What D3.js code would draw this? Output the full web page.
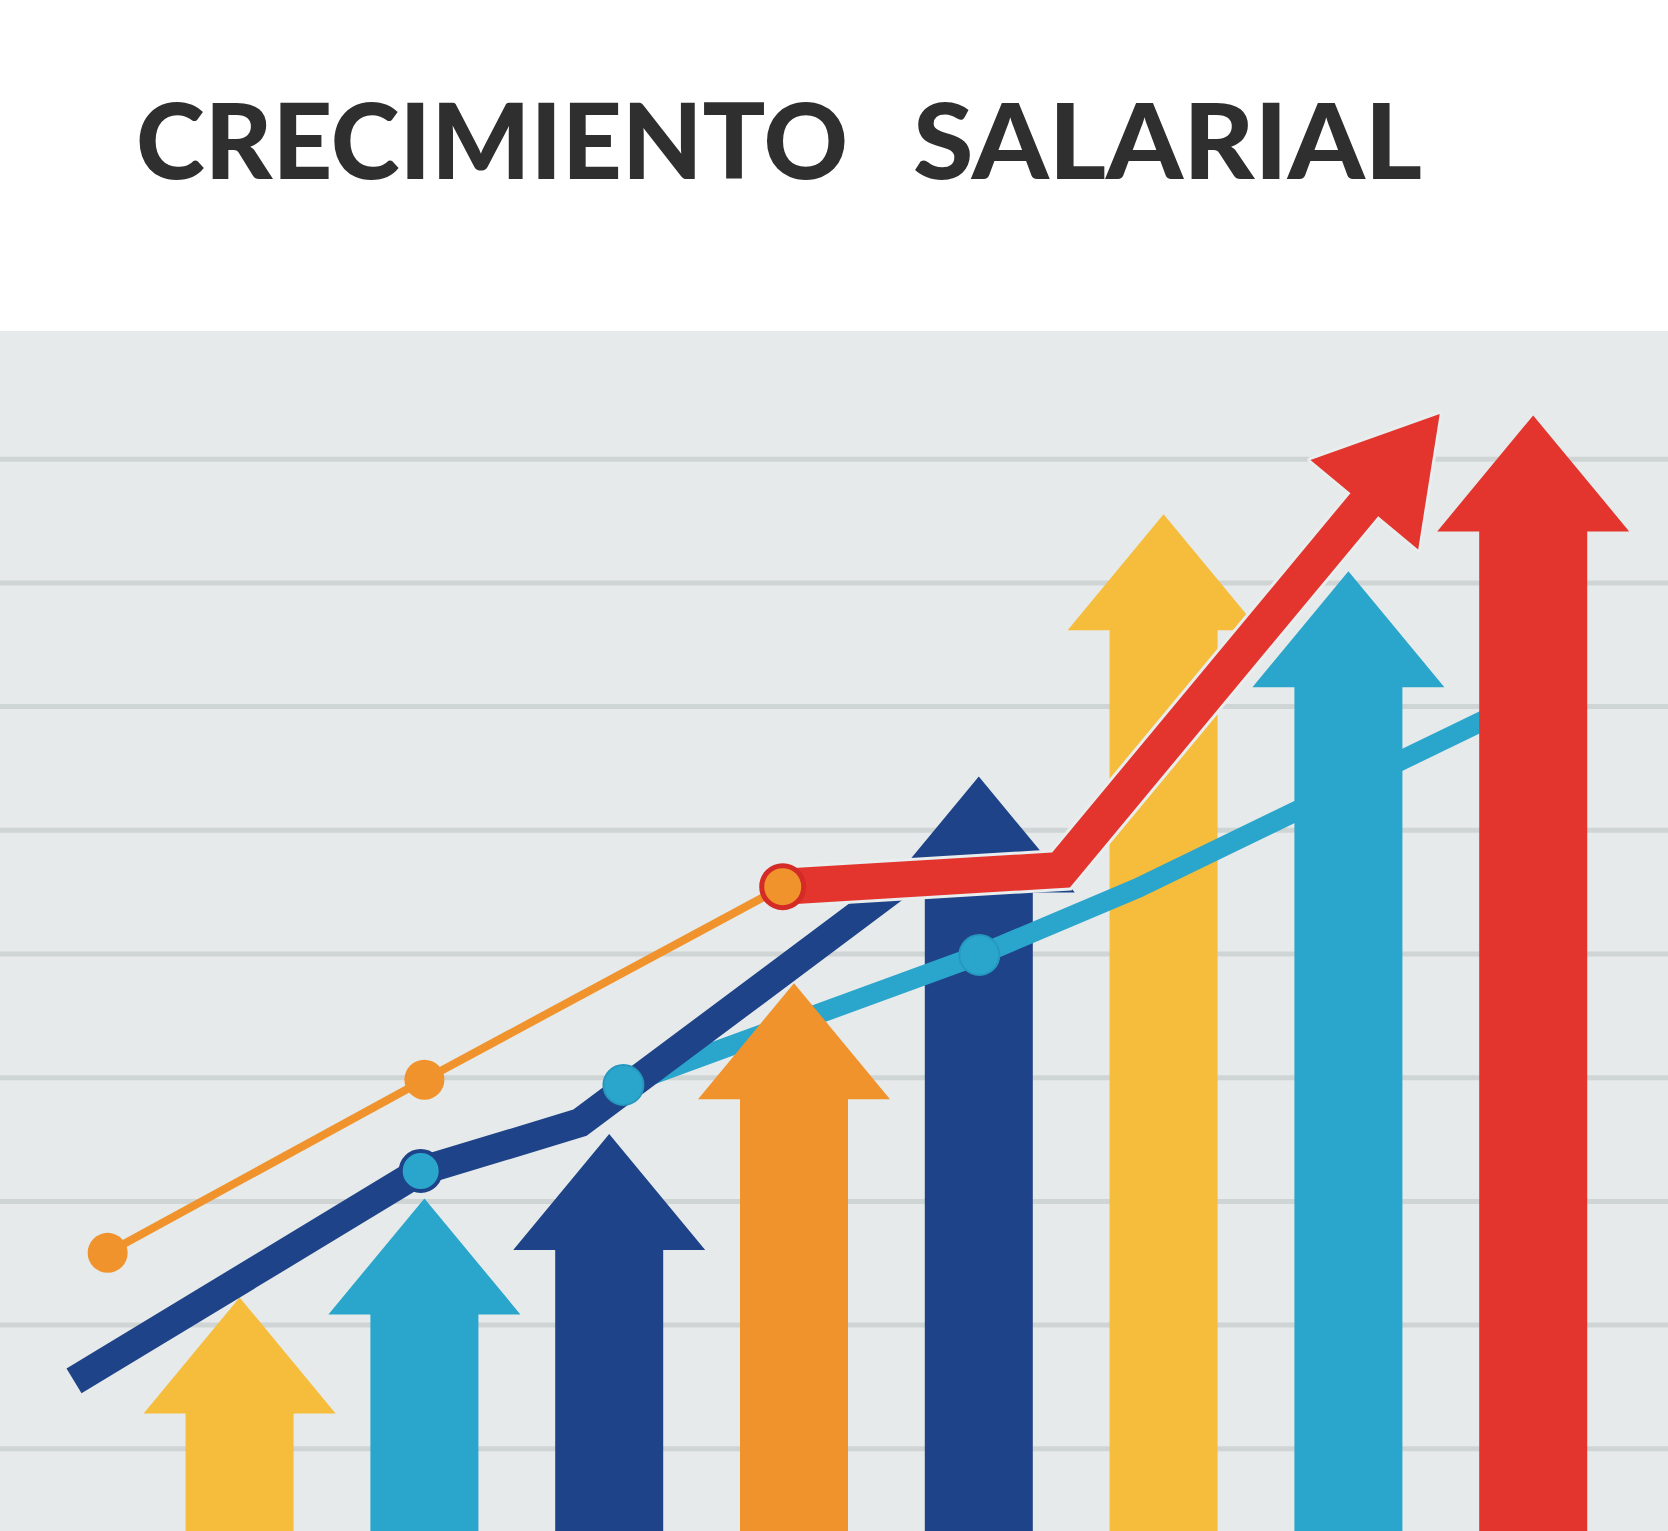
<!DOCTYPE html>
<html>
<head>
<meta charset="utf-8">
<script src="https://cdn.jsdelivr.net/npm/d3@7"></script>
<style>
  html, body { margin: 0; padding: 0; background: #ffffff; }
  svg { display: block; }
</style>
</head>
<body>
<svg id="chart" width="1668" height="1531"></svg>
<script>
// ---------- DATA ----------
const titleWords = ["CRECIMIENTO", "SALARIAL"];
const categories = ["P1", "P2", "P3", "P4", "P5", "P6", "P7", "P8"];
const arrowValues = [2.22, 3.02, 3.54, 4.76, 6.43, 8.55, 8.09, 9.35];
const gridValues = [1, 2, 3, 4, 5, 6, 7, 8, 9];

// line series: [category position, value]
const orangeSeries = [[-0.714, 2.58], [1.00, 3.98], [2.94, 5.54]];
const navySeries   = [[-0.896, 1.545], [0.98, 3.242], [1.842, 3.632], [3.57, 5.56]];
const cyanSeries   = [[2.077, 3.937], [4.003, 4.988], [4.861, 5.53], [6.983, 7.066]];
const redSeries    = [[2.939, 5.54], [4.445, 5.675], [6.494, 9.362]];

// ---------- STYLE ----------
const C = {
  yellow: "#f5bd3b", cyan: "#2aa6cc", navy: "#1e4388",
  orange: "#f0932c", red: "#e3352e"
};
const arrowColors = [C.yellow, C.cyan, C.navy, C.orange, C.navy, C.yellow, C.cyan, C.red];

const W = 1668, H = 1531;
const svg = d3.select("#chart");

const x = d3.scaleLinear().domain([0, 7]).range([239.6, 1533.2]);
const y = d3.scaleLinear().domain([0, 10]).range([1572, 335]);

// white top
svg.append("rect").attr("x", 0).attr("y", 0).attr("width", W).attr("height", H).attr("fill", "#ffffff");
// panel
svg.append("rect").attr("x", 0).attr("y", 331).attr("width", W).attr("height", H - 331).attr("fill", "#e6eaea");

// title
const titleG = svg.append("g")
  .attr("font-family", "Lato, 'Open Sans', sans-serif")
  .attr("font-weight", 900)
  .attr("font-size", 105)
  .attr("fill", "#2f2f2f");
const titleSpans = [[136, 848], [913, 1422]];
titleWords.forEach((w, i) => {
  titleG.append("text")
    .attr("x", titleSpans[i][0]).attr("y", 178.7)
    .attr("textLength", titleSpans[i][1] - titleSpans[i][0])
    .attr("lengthAdjust", "spacingAndGlyphs")
    .text(w);
});

// gridlines via axis
const gridAxis = d3.axisLeft(y).tickValues(gridValues).tickSize(-W).tickFormat("");
const gridG = svg.append("g").call(gridAxis);
gridG.select(".domain").remove();
gridG.selectAll(".tick line").attr("stroke", "#cfd4d4").attr("stroke-width", 5);

// arrows
const SHAFT = 108, HEAD_W = 192, HEAD_H = 116;
function arrowPath(i) {
  const cx = x(i), tip = y(arrowValues[i]), base = y(0), hb = tip + HEAD_H;
  return `M${cx - SHAFT/2},${base} L${cx - SHAFT/2},${hb} L${cx - HEAD_W/2},${hb} L${cx},${tip} ` +
         `L${cx + HEAD_W/2},${hb} L${cx + SHAFT/2},${hb} L${cx + SHAFT/2},${base} Z`;
}
function drawArrow(i) {
  svg.append("path").attr("class", "arrow").attr("d", arrowPath(i)).attr("fill", arrowColors[i]);
}

const lineGen = d3.line().x(d => x(d[0])).y(d => y(d[1]));

function drawLine(data, color, width) {
  svg.append("path").attr("d", lineGen(data)).attr("fill", "none")
    .attr("stroke", color).attr("stroke-width", width)
    .attr("stroke-linejoin", "miter").attr("stroke-linecap", "butt");
}

// layer order
drawArrow(4);
drawArrow(5);
drawLine(cyanSeries, C.cyan, 20);
drawArrow(3);
drawArrow(6);
drawArrow(7);
drawArrow(0);
drawArrow(1);
drawArrow(2);
drawLine(orangeSeries, C.orange, 8);
drawLine(navySeries, C.navy, 29);

// red line with arrow head
(function () {
  const pts = redSeries.map(d => [x(d[0]), y(d[1])]);
  const tip = pts[pts.length - 1], prev = pts[pts.length - 2];
  const dx = tip[0] - prev[0], dy = tip[1] - prev[1];
  const len = Math.hypot(dx, dy), ux = dx / len, uy = dy / len;
  const headLen = 118, headHalf = 70;
  const bx = tip[0] - ux * headLen, by = tip[1] - uy * headLen;
  const shaftPts = pts.slice(0, -1).concat([[bx + ux * 2, by + uy * 2]]);
  const head = [[tip[0], tip[1]], [bx - uy * headHalf, by + ux * headHalf], [bx + uy * headHalf, by - ux * headHalf]];
  const pl = d3.line();
  const haloCol = "#e9eded";
  svg.append("path").attr("d", pl(shaftPts)).attr("fill", "none")
    .attr("stroke", haloCol).attr("stroke-width", 42).attr("stroke-linejoin", "miter");
  svg.append("path").attr("d", pl(head) + "Z").attr("fill", haloCol)
    .attr("stroke", haloCol).attr("stroke-width", 6).attr("stroke-linejoin", "round");
  svg.append("path").attr("d", pl(shaftPts)).attr("fill", "none")
    .attr("stroke", C.red).attr("stroke-width", 36).attr("stroke-linejoin", "miter");
  svg.append("path").attr("d", pl(head) + "Z").attr("fill", C.red);
})();

// markers
function marker(d, fill, stroke, sw, r) {
  svg.append("circle").attr("cx", x(d[0])).attr("cy", y(d[1])).attr("r", r)
    .attr("fill", fill).attr("stroke", stroke).attr("stroke-width", sw);
}
marker(orangeSeries[0], C.orange, "none", 0, 20);
marker(orangeSeries[1], C.orange, "none", 0, 20);
marker(navySeries[1], C.cyan, C.navy, 4, 20);
marker(cyanSeries[0], C.cyan, "#2698be", 2, 20);
marker(cyanSeries[1], C.cyan, "#2698be", 2, 20);
marker(redSeries[0], C.orange, "#d42b26", 5, 21);
</script>
</body>
</html>
